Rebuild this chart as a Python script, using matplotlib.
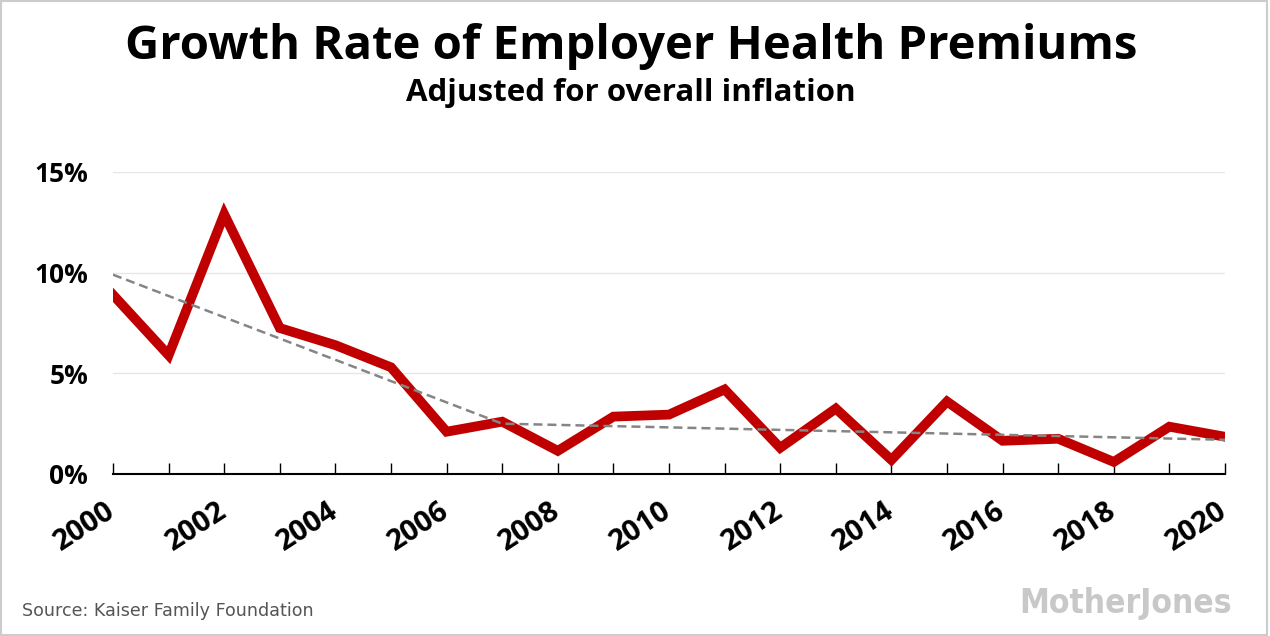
import matplotlib
matplotlib.use("Agg")
import matplotlib.pyplot as plt
from matplotlib.patches import Rectangle
from matplotlib.transforms import ScaledTranslation

# values (percent, inflation adjusted)
years = list(range(2000, 2021))
growth = [8.9, 5.9, 12.9, 7.25, 6.4, 5.3, 2.1, 2.6, 1.15, 2.85, 2.95,
          4.2, 1.3, 3.25, 0.7, 3.6, 1.65, 1.75, 0.6, 2.35, 1.85]

# two-piece trend line
trend_years = [2000, 2007, 2020]
trend_values = [9.9, 2.5, 1.7]

y_ticks = [0, 5, 10, 15]
y_labels = ["0%", "5%", "10%", "15%"]
x_label_years = list(range(2000, 2021, 2))

title = "Growth Rate of Employer Health Premiums"
subtitle = "Adjusted for overall inflation"
source = "Source: Kaiser Family Foundation"

bold_font = ["Open Sans", "Lato", "DejaVu Sans"]

fig = plt.figure(figsize=(12.7, 6.36), dpi=100)
ax = fig.add_axes([113 / 1270, 162 / 636, 1112 / 1270, 302 / 636])

ax.plot(years, growth, color="#c00000", linewidth=7, solid_joinstyle="miter", zorder=3)
ax.plot(trend_years, trend_values, color="#858585", linewidth=1.8,
        linestyle=(0, (3.6, 2)), zorder=4)

ax.set_xlim(2000, 2020)
ax.set_ylim(0, 15)

ax.grid(axis="y", color="#e6e6e6", linewidth=1)
ax.set_axisbelow(True)
for side in ["top", "right", "left"]:
    ax.spines[side].set_visible(False)
ax.spines["bottom"].set_linewidth(1.5)
ax.tick_params(axis="y", length=0, pad=18)
ax.tick_params(axis="x", direction="in", length=8, width=1, pad=16)

ax.set_yticks(y_ticks)
ax.set_yticklabels(y_labels, fontfamily=bold_font, fontweight="bold", fontsize=19)
ax.set_xticks(years)
ax.set_xticklabels([str(y) if y in x_label_years else "" for y in years],
                   fontfamily=bold_font, fontweight="bold", fontsize=21,
                   rotation=33, ha="right", rotation_mode="anchor")
# nudge the rotated labels so their right end sits under the tick
# (done after tick_params, which would reset the transform)
shift = ScaledTranslation(-8 / 100, 0, fig.dpi_scale_trans)
for lbl in ax.get_xticklabels():
    lbl.set_transform(lbl.get_transform() + shift)

fig.text(631 / 1270, 1 - 47 / 636, title, ha="center", va="center",
         fontfamily=bold_font, fontweight="bold", fontsize=34)
fig.text(631 / 1270, 1 - 93 / 636, subtitle, ha="center", va="center",
         fontfamily=bold_font, fontweight="bold", fontsize=22.5)
fig.text(22 / 1270, 1 - 611 / 636, source, ha="left", va="center",
         fontfamily="DejaVu Sans", fontsize=12.6, color="#555555")
fig.text(1232 / 1270, 1 - 603 / 636, "MotherJones", ha="right", va="center",
         fontfamily="DejaVu Sans", fontstretch="condensed", fontweight="bold",
         fontsize=24, color="#c8c8c8")

# thin light border round the whole picture
fig.patches.append(Rectangle((0.001, 0.002), 0.997, 0.996, transform=fig.transFigure,
                             fill=False, edgecolor="#cccccc", linewidth=1.5))

fig.savefig("out.png", dpi=100)
